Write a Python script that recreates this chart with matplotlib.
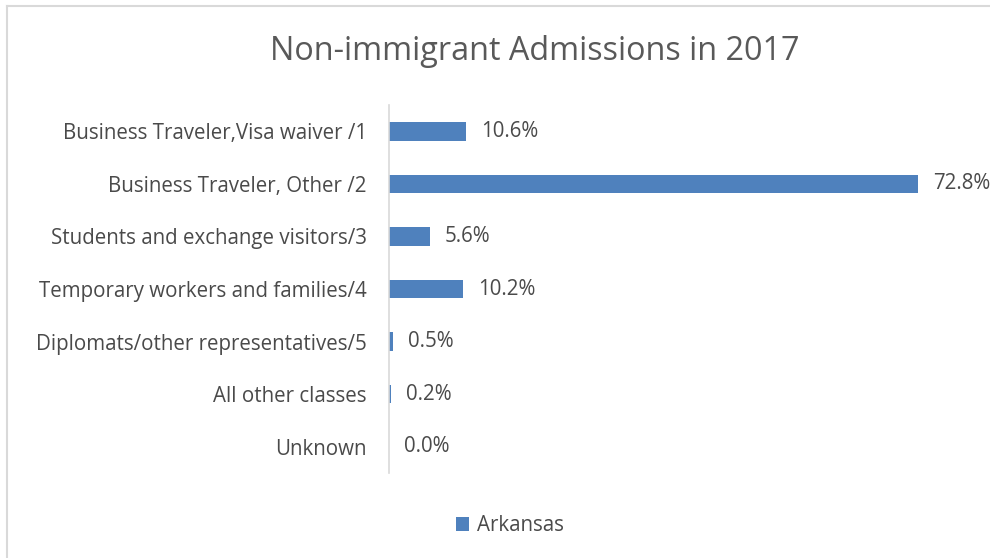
import matplotlib
matplotlib.use("Agg")
import matplotlib.pyplot as plt

categories = [
    "Business Traveler,Visa waiver /1",
    "Business Traveler, Other /2",
    "Students and exchange visitors/3",
    "Temporary workers and families/4",
    "Diplomats/other representatives/5",
    "All other classes",
    "Unknown",
]
values = [10.6, 72.8, 5.6, 10.2, 0.5, 0.2, 0.0]
series_name = "Arkansas"
title = "Non-immigrant Admissions in 2017"

plt.rcParams['font.family'] = ['Open Sans', 'DejaVu Sans']
bar_color = "#4F81BD"
text_color = "#4A4A4A"

fig = plt.figure(figsize=(9.9, 5.58), dpi=100)
ax = fig.add_axes([0.393, 0.1523, 0.587, 0.6595])

y = list(range(len(categories)))
ax.barh(y, values, height=0.355, color=bar_color, label=series_name)
ax.set_ylim(len(categories) - 0.5, -0.5)
ax.set_xlim(0, 80)
ax.set_yticks(y)
ax.set_yticklabels(categories, fontsize=14.8, color=text_color)
ax.tick_params(axis='y', length=0, pad=16)
ax.set_xticks([])
for s in ['top', 'right', 'bottom']:
    ax.spines[s].set_visible(False)
ax.spines['left'].set_color("#D9D9D9")
ax.spines['left'].set_linewidth(1.2)

for yi, v in zip(y, values):
    ax.annotate(f"{v:.1f}%", xy=(v, yi), xytext=(11, 0), textcoords='offset points',
                va='center', ha='left', fontsize=14.8, color=text_color, annotation_clip=False)

fig.text(0.540, 0.908, title, ha='center', va='center', fontsize=23.3, color="#595959")

leg = fig.legend(loc='center', bbox_to_anchor=(0.515, 0.058), frameon=False, fontsize=14.8,
                 handlelength=0.65, handleheight=0.65, handletextpad=0.35)
for t in leg.get_texts():
    t.set_color(text_color)

# figure border (top and left visible in crop)
fig.add_artist(plt.Line2D([7/990, 1], [1 - 6/558, 1 - 6/558], color="#D9D9D9", lw=1.5, transform=fig.transFigure))
fig.add_artist(plt.Line2D([7/990, 7/990], [0, 1 - 6/558], color="#D9D9D9", lw=1.5, transform=fig.transFigure))

fig.savefig("out.png", dpi=100, facecolor="white")
